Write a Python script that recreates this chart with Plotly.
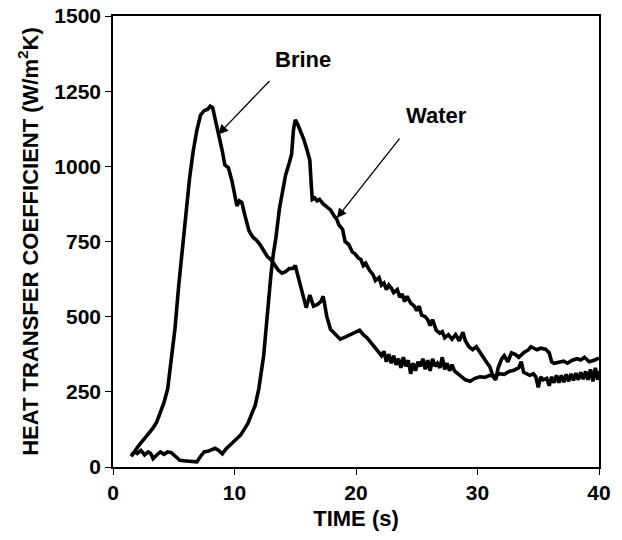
import plotly.graph_objects as go

brine_time = [1.5, 1.8, 2.1, 2.4, 2.7, 3.0, 3.3, 3.6, 3.9, 4.2, 4.5, 4.8, 5.1, 5.4, 5.7, 6.0, 6.3, 6.6, 6.9, 7.2,
              7.5, 7.8, 8.0, 8.2, 8.4, 8.7, 9.0, 9.2, 9.5, 9.8, 10.0, 10.2, 10.4, 10.6, 10.9, 11.2, 11.5, 11.8, 12.1, 12.4,
              12.7, 13.0, 13.3, 13.6, 13.9, 14.2, 14.5, 14.8, 15.0, 15.3, 15.6, 15.9, 16.2, 16.5, 16.8, 17.1, 17.3, 17.6, 17.9, 18.3,
              18.7, 19.1, 19.5, 19.9, 20.3, 20.6, 20.9, 21.2, 21.5, 21.8, 22.1, 22.3, 22.5, 22.7, 22.9, 23.1, 23.3, 23.5, 23.7, 23.9,
              24.1, 24.3, 24.5, 24.7, 24.9, 25.1, 25.3, 25.5, 25.7, 25.9, 26.1, 26.3, 26.5, 26.7, 26.9, 27.1, 27.3, 27.5, 27.7, 27.9,
              28.1, 28.4, 28.7, 29.0, 29.4, 29.8, 30.2, 30.6, 31.0, 31.4, 31.8, 32.2, 32.6, 33.0, 33.4, 33.6, 33.8, 34.0, 34.3, 34.6,
              34.8, 35.0, 35.2, 35.4, 35.7, 35.9, 36.1, 36.3, 36.5, 36.7, 36.9, 37.1, 37.3, 37.5, 37.7, 37.9, 38.1, 38.3, 38.5, 38.7,
              38.9, 39.1, 39.3, 39.5, 39.7, 39.9, 40.0]
brine_htc = [35, 55, 70, 85, 100, 115, 130, 150, 180, 215, 260, 360, 460, 600, 730, 860, 960, 1050, 1120, 1170,
             1185, 1190, 1200, 1195, 1160, 1110, 1050, 1005, 995, 950, 900, 868, 885, 880, 830, 785, 765, 755, 740, 720,
             700, 690, 670, 655, 645, 650, 660, 660, 670, 620, 570, 530, 572, 535, 540, 550, 568, 500, 458, 440,
             425, 432, 440, 450, 455, 440, 430, 415, 400, 385, 370, 385, 350, 375, 345, 370, 340, 360, 330, 365,
             335, 355, 310, 345, 320, 350, 335, 360, 325, 355, 320, 360, 335, 345, 330, 365, 325, 345, 320, 340,
             320, 310, 300, 290, 285, 295, 300, 298, 305, 302, 310, 308, 318, 322, 330, 350, 315, 310, 305, 310,
             300, 265, 300, 290, 295, 270, 300, 280, 305, 280, 305, 282, 308, 285, 310, 288, 312, 290, 315, 292,
             318, 290, 325, 285, 330, 290, 320]

water_time = [1.5, 1.8, 2.0, 2.3, 2.6, 2.9, 3.1, 3.3, 3.6, 3.9, 4.2, 4.5, 4.8, 5.1, 5.5, 6.0, 6.5, 6.9, 7.2, 7.5,
              7.8, 8.1, 8.4, 8.7, 9.0, 9.3, 9.6, 9.9, 10.2, 10.5, 10.8, 11.1, 11.4, 11.7, 12.0, 12.2, 12.4, 12.6, 12.8, 13.0,
              13.2, 13.4, 13.7, 14.0, 14.2, 14.5, 14.7, 14.85, 15.0, 15.2, 15.4, 15.7, 16.0, 16.2, 16.3, 16.4, 16.6, 16.8, 17.0, 17.3,
              17.6, 17.9, 18.2, 18.4, 18.6, 18.9, 19.1, 19.4, 19.7, 19.9, 20.2, 20.4, 20.6, 20.8, 21.1, 21.4, 21.6, 21.9, 22.1, 22.3,
              22.5, 22.7, 22.9, 23.1, 23.4, 23.6, 23.8, 24.0, 24.2, 24.5, 24.8, 25.0, 25.2, 25.4, 25.7, 25.9, 26.1, 26.3, 26.6, 26.9,
              27.1, 27.3, 27.6, 27.9, 28.2, 28.5, 28.8, 29.0, 29.3, 29.6, 29.9, 30.2, 30.5, 30.8, 31.0, 31.3, 31.5, 31.7, 32.0, 32.2,
              32.5, 32.8, 33.1, 33.4, 33.8, 34.2, 34.4, 34.6, 34.9, 35.2, 35.6, 35.9, 36.1, 36.3, 36.7, 37.1, 37.4, 37.8, 38.2, 38.5,
              38.8, 39.2, 39.6, 40.0]
water_htc = [40, 50, 45, 55, 40, 50, 45, 28, 40, 50, 42, 50, 48, 35, 22, 20, 20, 17, 35, 50,
             52, 58, 62, 55, 44, 60, 70, 83, 95, 106, 125, 145, 175, 205, 260, 310, 370, 460, 560, 640,
             710, 760, 860, 930, 970, 1010, 1040, 1120, 1155, 1140, 1120, 1090, 1050, 1020, 950, 890, 895, 885, 890, 875,
             865, 855, 835, 825, 805, 790, 750, 740, 715, 710, 695, 690, 670, 678, 655, 640, 620, 630, 605, 612,
             590, 605, 595, 580, 590, 565, 575, 550, 568, 545, 535, 520, 535, 505, 500, 490, 470, 490, 455, 445,
             450, 430, 440, 425, 440, 420, 448, 420, 400, 390, 400, 380, 365, 345, 335, 300, 290, 330, 360, 370,
             350, 380, 375, 365, 380, 390, 400, 395, 390, 395, 392, 380, 350, 345, 348, 352, 345, 355, 360, 356,
             365, 350, 355, 362]

x_ticks = [0, 10, 20, 30, 40]
y_ticks = [0, 250, 500, 750, 1000, 1250, 1500]

FONT = "Liberation Sans, Arial, sans-serif"
FS_TICK = 21
FS_TEXT = 22

fig = go.Figure()
fig.add_trace(go.Scatter(x=brine_time, y=brine_htc, mode="lines", name="Brine",
                         line=dict(color="black", width=3.6)))
fig.add_trace(go.Scatter(x=water_time, y=water_htc, mode="lines", name="Water",
                         line=dict(color="black", width=3.6)))

axis_common = dict(showline=True, linecolor="black", linewidth=1.5, mirror=True,
                   ticks="outside", ticklen=6, tickwidth=1, tickcolor="black",
                   showgrid=False, zeroline=False, automargin=False,
                   tickfont=dict(family=FONT, size=FS_TICK, color="black"))

fig.update_xaxes(range=[0, 40], tickvals=x_ticks, ticktext=["<b>%d</b>" % v for v in x_ticks],
                 title=dict(text="<b>TIME (s)</b>", font=dict(family=FONT, size=FS_TEXT, color="black"), standoff=8),
                 **axis_common)
fig.update_yaxes(range=[0, 1500], tickvals=y_ticks, ticktext=["<b>%d</b>" % v for v in y_ticks],
                 title=dict(text="<b>HEAT TRANSFER COEFFICIENT (W/m<sup>2</sup>K)</b>",
                            font=dict(family=FONT, size=FS_TEXT, color="black"), standoff=10),
                 **axis_common)

# Arrows
fig.add_annotation(x=8.66, y=1106, ax=13.0, ay=1289, axref="x", ayref="y", xref="x", yref="y",
                   text="", showarrow=True, arrowhead=2, arrowsize=1.5, arrowwidth=1.3, arrowcolor="black")
fig.add_annotation(x=15.65, y=1356, xref="x", yref="y", text="<b>Brine</b>", showarrow=False,
                   font=dict(family=FONT, size=FS_TEXT, color="black"))
fig.add_annotation(x=18.42, y=828, ax=23.68, ay=1097, axref="x", ayref="y", xref="x", yref="y",
                   text="", showarrow=True, arrowhead=2, arrowsize=1.5, arrowwidth=1.3, arrowcolor="black")
fig.add_annotation(x=26.64, y=1169, xref="x", yref="y", text="<b>Water</b>", showarrow=False,
                   font=dict(family=FONT, size=FS_TEXT, color="black"))

fig.update_layout(width=622, height=540, showlegend=False,
                  plot_bgcolor="white", paper_bgcolor="white",
                  margin=dict(l=113, r=23, t=16, b=73))

fig.write_html("out.html")
